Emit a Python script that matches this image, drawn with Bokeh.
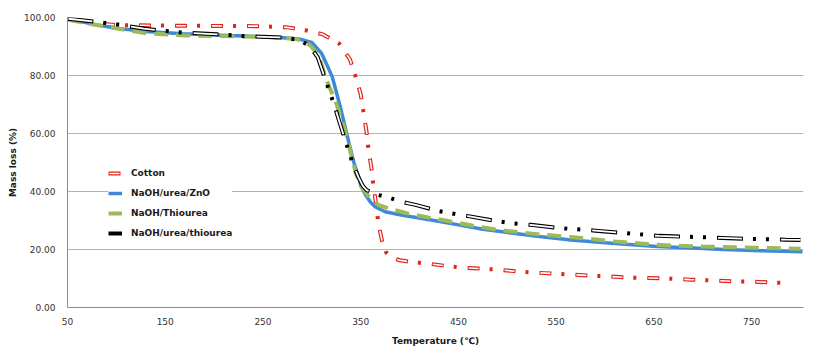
from bokeh.plotting import figure
from bokeh.models import Range1d, FixedTicker, PrintfTickFormatter, Legend, LegendItem
from bokeh.embed import file_html
from bokeh.resources import INLINE

# ---------------- data ----------------
x_ticks = [50, 150, 250, 350, 450, 550, 650, 750]
y_ticks = [0, 20, 40, 60, 80, 100]

cotton_t = [50, 70, 100, 150, 200, 250, 275, 295, 311, 328, 339, 345, 350, 353, 356, 358, 361, 363,
            366, 368, 372, 376, 381, 390, 399, 417, 436, 455, 473, 492, 511, 529, 548, 567, 585, 604,
            624, 642, 661, 687, 714, 732, 752, 770, 790]
cotton_m = [99.5, 98.2, 97.4, 97.2, 97.1, 97.0, 96.6, 95.5, 94.2, 91.0, 85.6, 79.4, 73.5, 67.0, 60.5,
            54.3, 48.0, 42.0, 35.0, 29.0, 22.7, 19.0, 17.2, 16.3, 15.8, 15.2, 14.4, 13.7, 13.4, 13.0,
            12.4, 12.0, 11.7, 11.3, 11.0, 10.7, 10.3, 10.2, 10.0, 9.6, 9.3, 9.0, 8.9, 8.6, 8.5]

zno_t = [50, 84, 100, 130, 168, 200, 230, 267, 287, 300, 310, 315, 321, 330, 338, 343, 348, 350, 355,
         360, 365, 375, 390, 402, 425, 450, 475, 504, 535, 565, 600, 653, 690, 721, 760, 802]
zno_m = [99.5, 97.2, 96.3, 95.2, 94.4, 94.0, 93.6, 93.1, 92.6, 91.4, 87.6, 84.0, 79.4, 68.0, 56.7, 50.0,
         45.0, 42.0, 38.8, 36.3, 34.7, 33.0, 32.0, 31.3, 30.0, 28.5, 27.0, 25.7, 24.4, 23.3, 22.3, 21.0,
         20.5, 20.0, 19.6, 19.2]

thio_t = [50, 70, 101, 131, 170, 226, 260, 285, 298, 307, 315, 325, 333, 340, 345, 350, 353, 360, 368,
          380, 396, 420, 443, 465, 490, 530, 565, 610, 653, 700, 755, 800]
thio_m = [99.3, 98.0, 96.2, 94.5, 93.8, 93.5, 93.2, 92.5, 90.5, 87.0, 78.4, 70.4, 62.2, 53.0, 46.4, 42.0,
          40.5, 37.5, 35.4, 34.0, 32.6, 31.0, 29.6, 28.2, 26.8, 25.3, 24.3, 22.8, 21.6, 21.0, 20.6, 20.3]

urth_t = [50, 80, 101, 128, 145, 168, 203, 234, 270, 288, 298, 306, 314, 323, 327, 335, 343, 348, 352,
          356, 368, 380, 392, 406, 429, 460, 485, 501, 524, 550, 565, 590, 616, 629, 655, 681, 694, 719,
          745, 758, 785, 800]
urth_m = [99.6, 98.5, 97.6, 96.2, 95.5, 94.8, 94.2, 93.5, 93.1, 92.2, 90.0, 86.3, 78.4, 69.8, 65.3, 56.7,
          48.5, 44.7, 42.0, 40.5, 38.8, 37.8, 36.4, 35.4, 33.3, 31.5, 30.0, 29.2, 28.5, 27.5, 27.1, 26.5,
          25.8, 25.4, 24.7, 24.4, 24.3, 24.0, 23.7, 23.6, 23.4, 23.3]

labels = ["Cotton", "NaOH/urea/ZnO", "NaOH/Thiourea", "NaOH/urea/thiourea"]

# ---------------- figure ----------------
FONT = "DejaVu Sans"
p = figure(width=820, height=354, output_backend="svg", toolbar_location=None,
           x_range=Range1d(50, 803), y_range=Range1d(0, 100),
           min_border_left=67, min_border_right=17, min_border_top=17, min_border_bottom=47)
p.outline_line_color = None
p.background_fill_color = "white"
p.border_fill_color = "white"

p.xgrid.grid_line_color = None
p.ygrid.grid_line_color = "#b3b3b3"
p.ygrid.grid_line_width = 1

p.xaxis.ticker = FixedTicker(ticks=x_ticks)
p.yaxis.ticker = FixedTicker(ticks=y_ticks)
p.yaxis.formatter = PrintfTickFormatter(format="%.2f")
for ax in (p.xaxis, p.yaxis):
    ax.axis_line_color = "#8c8c8c"
    ax.major_tick_line_color = None
    ax.minor_tick_line_color = None
    ax.major_tick_out = 0
    ax.major_tick_in = 0
    ax.major_label_text_font = FONT
    ax.major_label_text_font_size = "9px"
    ax.major_label_text_color = "#333333"
    ax.axis_label_text_font = FONT
    ax.axis_label_text_font_size = "9px"
    ax.axis_label_text_font_style = "bold"
    ax.axis_label_text_color = "#1a1a1a"
p.xaxis.axis_label = "Temperature (\u2103)"
p.yaxis.axis_label = "Mass loss (%)"
p.xaxis.major_label_standoff = 10
p.yaxis.major_label_standoff = 12
p.xaxis.axis_label_standoff = 8
p.yaxis.axis_label_standoff = 3

# ---------------- series ----------------
# Cotton: hollow red dashes with dots
c_out = p.line(cotton_t, cotton_m, line_color="#e2231a", line_width=4, line_dash="12 10 3 11", line_cap="butt")
c_in = p.line(cotton_t, cotton_m, line_color="white", line_width=1.6, line_dash="0 1 10 25", line_cap="butt")

# NaOH/urea/ZnO: dense blue band
z_line = p.line(zno_t, zno_m, line_color="#3e8ad6", line_width=3.5)

# NaOH/Thiourea: green dashes
t_line = p.line(thio_t, thio_m, line_color="#9bbb59", line_width=4, line_dash="14 8", line_cap="butt")

# NaOH/urea/thiourea: hollow black long dash + two dots
u_out = p.line(urth_t, urth_m, line_color="black", line_width=4, line_dash="26 10 3 10 3 11", line_cap="butt")
u_in = p.line(urth_t, urth_m, line_color="white", line_width=1.8, line_dash="0 1 24 38", line_cap="butt")

# ---------------- legend ----------------
legend = Legend(items=[LegendItem(label=labels[0], renderers=[c_out, c_in]),
                       LegendItem(label=labels[1], renderers=[z_line]),
                       LegendItem(label=labels[2], renderers=[t_line]),
                       LegendItem(label=labels[3], renderers=[u_out]),
                       ],
                location=(41, 66))
legend.glyph_width = 14
legend.glyph_height = 16
legend.label_height = 16
legend.label_standoff = 9
legend.spacing = 4
legend.padding = 5
legend.margin = 0
legend.border_line_color = None
legend.background_fill_color = "white"
legend.background_fill_alpha = 1
legend.label_text_font = FONT
legend.label_text_font_size = "9px"
legend.label_text_font_style = "bold"
legend.label_text_color = "#1a1a1a"
p.add_layout(legend)

open("out.html", "w").write(file_html(p, INLINE))
